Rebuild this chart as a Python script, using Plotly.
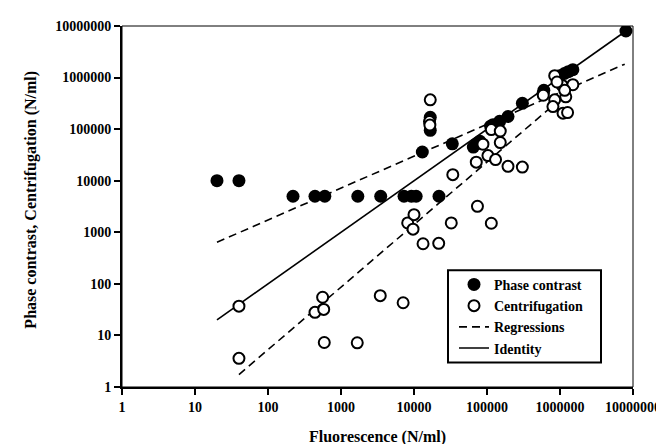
import plotly.graph_objects as go

# ---- data ----
pc_fluor = [20, 40, 220, 440, 600, 1700, 3500, 7300, 9200, 10700, 22000,
            13000, 16700, 16700, 33500, 65000, 72000, 80000,
            112000, 121000, 149000, 194000, 305000, 585000, 600000,
            990000, 1150000, 1300000, 1500000, 8000000]
pc_count = [10000, 10000, 5000, 5000, 5000, 5000, 5000, 5000, 5000, 5000, 5000,
            36000, 95000, 170000, 52000, 45000, 52000, 58000,
            114000, 122000, 142000, 176000, 316000, 490000, 566000,
            1090000, 1200000, 1300000, 1420000, 8000000]

cf_fluor = [40, 40, 440, 560, 580, 590, 1670, 3450, 7100,
            8200, 10000, 9700, 13300, 21800, 32400, 34000, 74000, 114600,
            16700, 16300, 16500,
            71300, 88000, 103000, 131000, 114600, 152000, 152000, 194000, 305000,
            846000, 1070000, 1500000, 590000, 846000, 1200000, 800000, 1100000,
            1270000, 1160000, 910000]
cf_count = [37, 3.6, 28, 55, 32, 7.3, 7.2, 59, 43,
            1516, 2200, 1150, 600, 610, 1516, 13100, 3190, 1496,
            370000, 140000, 120000,
            22900, 51000, 30700, 25700, 98000, 91600, 55000, 19000, 18400,
            1090000, 705000, 727000, 455000, 370000, 424000, 274000, 204000,
            210000, 566000, 820000]

reg_pc_x = [20, 7700000]
reg_pc_y = [640, 1820000]
reg_cf_x = [40, 690000]
reg_cf_y = [1.74, 240000]
identity_x = [20, 8000000]
identity_y = [20, 8000000]

tick_vals = [1, 10, 100, 1000, 10000, 100000, 1000000, 10000000]
tick_text = ["1", "10", "100", "1000", "10000", "100000", "1000000", "10000000"]

FONT = "Liberation Serif"
PLOT_L, PLOT_R, PLOT_T, PLOT_B = 114, 625, 11, 379
PW, PH = PLOT_R - PLOT_L, PLOT_B - PLOT_T


def px(x):
    return (x - PLOT_L) / PW


def py(y):
    return (PLOT_B - y) / PH


fig = go.Figure()

dash = "8px,5px"
fig.add_trace(go.Scatter(x=reg_pc_x, y=reg_pc_y, mode="lines", name="Regressions",
                         line=dict(color="black", width=1.6, dash=dash),
                         legendrank=3, showlegend=True))
fig.add_trace(go.Scatter(x=reg_cf_x, y=reg_cf_y, mode="lines", name="Regressions",
                         line=dict(color="black", width=1.6, dash=dash),
                         showlegend=False))
fig.add_trace(go.Scatter(x=identity_x, y=identity_y, mode="lines", name="Identity",
                         line=dict(color="black", width=1.6), legendrank=4))
fig.add_trace(go.Scatter(x=pc_fluor, y=pc_count, mode="markers", name="Phase contrast",
                         marker=dict(symbol="circle", size=13, color="black",
                                     line=dict(width=0)), legendrank=1))
fig.add_trace(go.Scatter(x=cf_fluor, y=cf_count, mode="markers", name="Centrifugation",
                         marker=dict(symbol="circle", size=11, color="white",
                                     line=dict(width=2, color="black")), legendrank=2))

axis_common = dict(type="log", range=[0, 7], tickvals=tick_vals, ticktext=tick_text,
                   showgrid=False, zeroline=False, showline=True, linecolor="black",
                   linewidth=2, ticks="outside", ticklen=6, tickwidth=1.5,
                   tickcolor="black",
                   tickfont=dict(family=FONT, size=14, color="black", weight="bold"))

fig.update_xaxes(**axis_common)
fig.update_yaxes(**axis_common)

# thin frame around the plot area
fig.add_shape(type="rect", xref="paper", yref="paper", x0=0, y0=0, x1=1, y1=1,
              line=dict(color="black", width=1))
# legend box
fig.add_shape(type="rect", xref="paper", yref="paper", x0=px(440), x1=px(593),
              y0=py(354), y1=py(260), line=dict(color="black", width=2),
              fillcolor="white", layer="above")

fig.add_annotation(text="<b>Fluorescence (N/ml)</b>", xref="paper", yref="paper",
                   x=0.5, y=py(430), xanchor="center", yanchor="middle",
                   showarrow=False, font=dict(family=FONT, size=16, color="black"))
fig.add_annotation(text="<b>Phase contrast, Centrifugation (N/ml)</b>", xref="paper",
                   yref="paper", x=px(23), y=py(188),
                   xanchor="center", yanchor="middle", textangle=-90,
                   showarrow=False, font=dict(family=FONT, size=16, color="black"))

fig.update_layout(
    width=664, height=444,
    margin=dict(l=PLOT_L, r=664 - PLOT_R, t=PLOT_T, b=444 - PLOT_B),
    paper_bgcolor="white", plot_bgcolor="white",
    font=dict(family=FONT, color="black"),
    showlegend=True,
    legend=dict(x=px(446), y=py(307), xanchor="left", yanchor="middle",
                bgcolor="rgba(0,0,0,0)", borderwidth=0,
                font=dict(family=FONT, size=14, color="black", weight="bold"),
                tracegroupgap=0, itemwidth=30),
)

fig.write_html("out.html")
